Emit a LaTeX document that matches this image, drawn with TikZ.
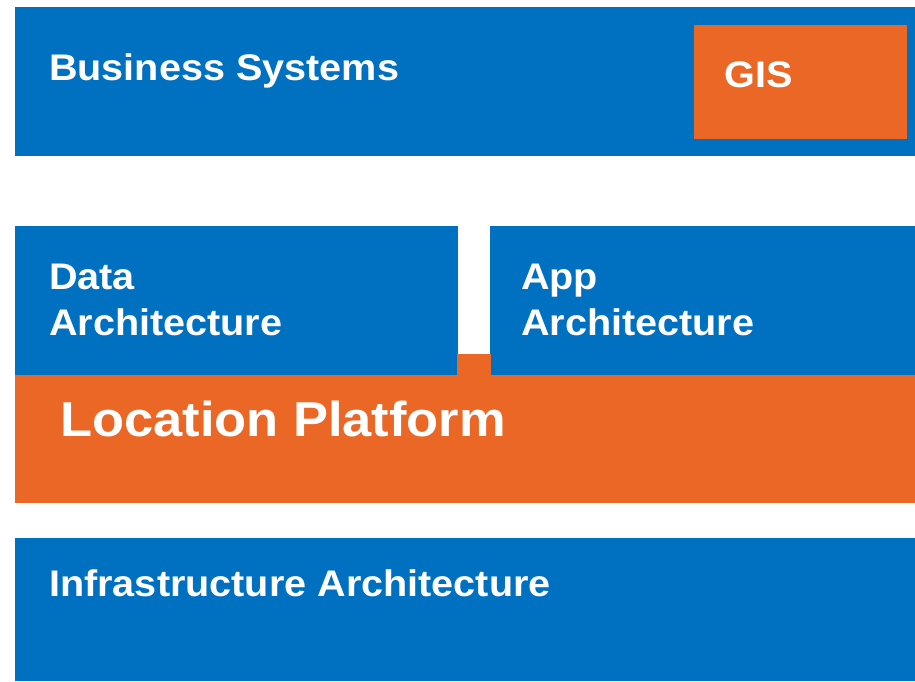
\documentclass[tikz,border=0pt]{standalone}
\usepackage{fontspec}
\setmainfont{Liberation Sans}[FakeStretch=1.07]
\definecolor{blk}{HTML}{0070C0}
\definecolor{org}{HTML}{EB6726}
\begin{document}
\begin{tikzpicture}[x=1pt,y=-1pt,
  lbl/.style={anchor=base west,inner sep=0pt,text=white,font=\bfseries\fontsize{37}{46}\selectfont},
  big/.style={lbl,font=\bfseries\fontsize{49}{60}\selectfont}]
\useasboundingbox (0,0) rectangle (915,681);
\fill[blk] (15,7) rectangle (915,156);
\fill[org] (694,25) rectangle (907,139);
\fill[blk] (15,226) rectangle (458,375);
\fill[blk] (490,226) rectangle (915,375);
\fill[org] (457,354) rectangle (491,376);
\fill[org] (15,375) rectangle (915,503);
\fill[blk] (15,538) rectangle (915,681);
\node[lbl] (bs) at (49,80.5) {Business Systems};
\node[lbl] (gis) at (724,87) {GIS};
\node[lbl] (d1) at (49,289) {Data};
\node[lbl] (d2) at (49,335.5) {Architecture};
\node[lbl] (a1) at (521,289) {App};
\node[lbl] (a2) at (521,335.5) {Architecture};
\node[big] (lp) at (60,436) {Location Platform};
\node[lbl] (inf) at (49,596.5) {Infrastructure Architecture};
\end{tikzpicture}
\end{document}
